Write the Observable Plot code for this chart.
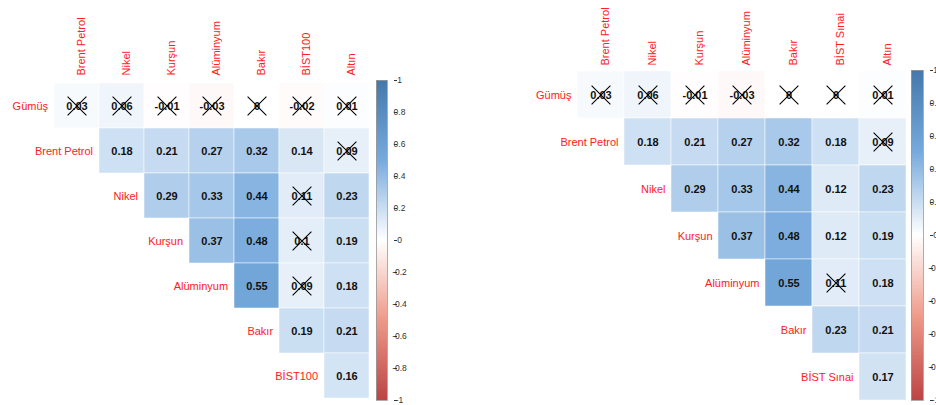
<!DOCTYPE html>
<html><head><meta charset="utf-8">
<script src="https://cdn.jsdelivr.net/npm/d3@7"></script>
<script src="https://cdn.jsdelivr.net/npm/@observablehq/plot@0.6"></script>
<style>
body{margin:0;background:#fff;}
#wrap{position:relative;width:936px;height:405px;overflow:hidden;font-family:"Liberation Sans",Arial,sans-serif;}
#wrap > div{position:absolute;top:0;}
#wrap svg{overflow:visible;max-width:none !important;}
</style></head><body><div id="wrap"></div>
<script>
// Left panel (BİST100)
const colsA = ["Brent Petrol","Nikel","Kurşun","Alüminyum","Bakır","BİST100","Altın"];
const rowsA = ["Gümüş","Brent Petrol","Nikel","Kurşun","Alüminyum","Bakır","BİST100"];
const valsA = [
  [0.03,0.06,-0.01,-0.03,0,-0.02,0.01],
  [0.18,0.21,0.27,0.32,0.14,0.09],
  [0.29,0.33,0.44,0.11,0.23],
  [0.37,0.48,0.1,0.19],
  [0.55,0.09,0.18],
  [0.19,0.21],
  [0.16]
];
const insigA = [
  [1,1,1,1,1,1,1],
  [0,0,0,0,0,1],
  [0,0,0,1,0],
  [0,0,1,0],
  [0,1,0],
  [0,0],
  [0]
];
// Right panel (BİST Sınai)
const colsB = ["Brent Petrol","Nikel","Kurşun","Alüminyum","Bakır","BİST Sınai","Altın"];
const rowsB = ["Gümüş","Brent Petrol","Nikel","Kurşun","Alüminyum","Bakır","BİST Sınai"];
const valsB = [
  [0.03,0.06,-0.01,-0.03,0,0,0.01],
  [0.18,0.21,0.27,0.32,0.18,0.09],
  [0.29,0.33,0.44,0.12,0.23],
  [0.37,0.48,0.12,0.19],
  [0.55,0.11,0.18],
  [0.23,0.21],
  [0.17]
];
const insigB = [
  [1,1,1,1,1,1,1],
  [0,0,0,0,0,1],
  [0,0,0,0,0],
  [0,0,0,0],
  [0,1,0],
  [0,0],
  [0]
];
const legendTicks = [-1,-0.8,-0.6,-0.4,-0.2,0,0.2,0.4,0.6,0.8,1];
const paletteStops = [-1,-0.5,0,0.5,1];
const paletteColors = ["#BB4444","#EE9988","#FFFFFF","#77AADD","#4477AA"];

const FONT = '"Liberation Sans", Arial, sans-serif';
const colorScale = {type:"linear", domain:paletteStops, range:paletteColors, interpolate:"rgb"};

function matrix(cols, rows, vals, insig, width, left, top) {
  const cells = [];
  rows.forEach((r, i) => vals[i].forEach((v, k) => cells.push({row:r, col:cols[i+k], v, ns: insig[i][k]})));
  const bw = (width - left) / cols.length;
  return Plot.plot({
    width, height:405, marginLeft:left, marginRight:0, marginTop:top, marginBottom:5,
    x:{domain:cols, padding:0, axis:null},
    y:{domain:rows, padding:0, axis:null},
    color:colorScale,
    style:{fontFamily:FONT, background:"transparent"},
    marks:[
      Plot.cell(cells, {x:"col", y:"row", fill:"v", inset:0, stroke:"white", strokeWidth:0.5}),
      Plot.text(cells, {x:"col", y:"row", text:d => String(d.v), fontWeight:"bold", fontSize:11, fill:"#111"}),
      Plot.dot(cells.filter(d => d.ns), {x:"col", y:"row", symbol:"times", r:8.6, stroke:"black", strokeWidth:1.1}),
      Plot.text(rows, {x:(d, i) => cols[i], y:d => d, dx:-(bw/2 + 6), textAnchor:"end", fill:"#ff2020", fontSize:11}),
      Plot.text(cols, {x:d => d, frameAnchor:"top", dy:-5, rotate:-90, textAnchor:"start", fill:"#ff2020", fontSize:11})
    ]
  });
}

function colorbar(mLeft, mRight, top) {
  const steps = d3.range(0, 200).map(i => -1 + i * 0.01);
  return Plot.plot({
    width:60, height:405, marginLeft:mLeft, marginRight:mRight, marginTop:top, marginBottom:5,
    y:{domain:[-1, 1]},
    color:colorScale,
    style:{fontFamily:FONT, background:"transparent"},
    marks:[
      Plot.rect(steps, {y1:d => d, y2:d => d + 0.01, fill:d => d + 0.005, shapeRendering:"crispEdges"}),
      Plot.frame({stroke:"#999", strokeWidth:0.8}),
      Plot.axisY({anchor:"right", ticks:legendTicks, tickSize:3, tickPadding:3, tickFormat:d => String(d),
                  textAnchor:"middle", dx:6, fontSize:8.5, color:"#333"})
    ]
  });
}

const wrap = document.getElementById("wrap");
function place(el, left, w) {
  const d = document.createElement("div");
  d.style.left = left + "px";
  d.style.width = w + "px";
  d.appendChild(el);
  wrap.appendChild(d);
}
place(matrix(colsA, rowsA, valsA, insigA, 372, 51, 80), 0, 372);
place(colorbar(16, 33, 80), 360, 60);
place(matrix(colsB, rowsB, valsB, insigB, 436, 107, 70), 470, 436);
place(colorbar(16, 32, 70), 895, 60);
</script></body></html>
